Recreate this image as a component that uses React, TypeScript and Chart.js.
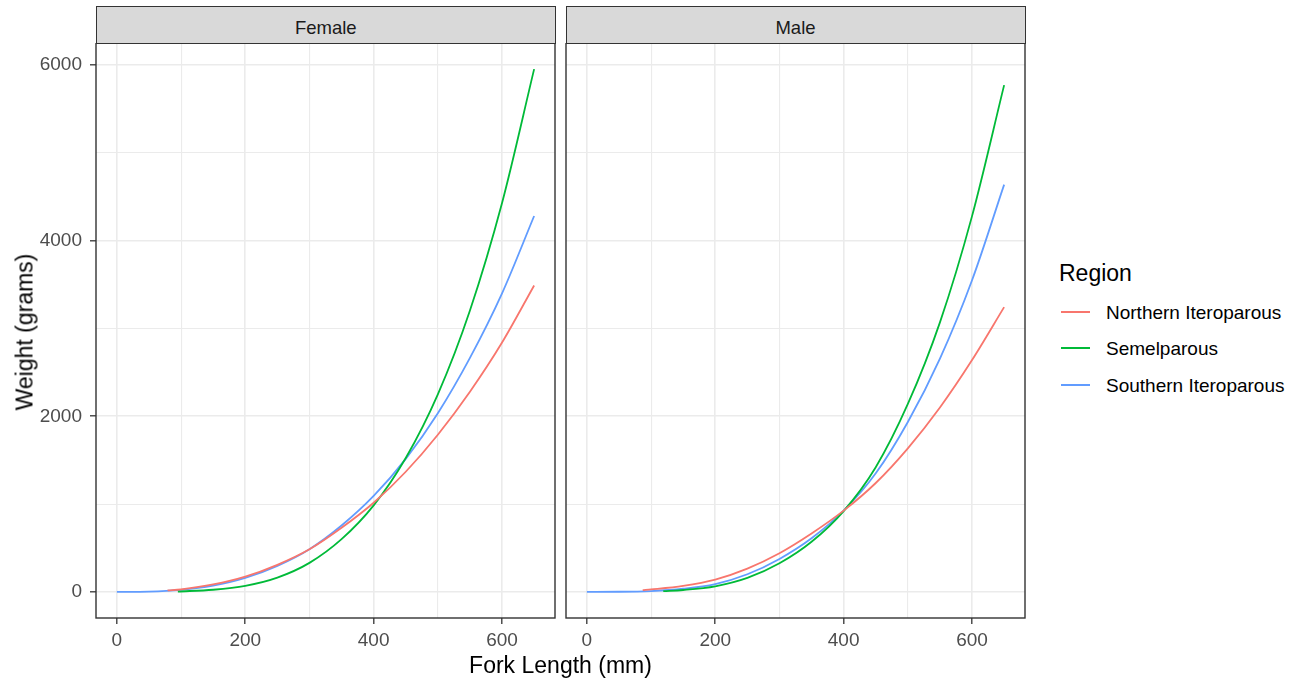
import React, { useEffect, useRef } from 'react';
import { Chart, registerables } from 'chart.js';

Chart.register(...registerables);

// ---------- data ----------
const regions = ['Northern Iteroparous', 'Semelparous', 'Southern Iteroparous'];
const regionColors = ['#F8766D', '#00BA38', '#619CFF'];
const sexes = ['Female', 'Male'];

const xTickValues = [0, 100, 200, 300, 400, 500, 600];
const xTickLabels = ['0', '', '200', '', '400', '', '600'];
const yTickValues = [0, 1000, 2000, 3000, 4000, 5000, 6000];
const yTickLabels = ['0', '', '2000', '', '4000', '', '6000'];

// Female
const femaleNorthernLength = [79, 100, 150, 200, 250, 300, 350, 400, 450, 500, 550, 600, 650];
const femaleNorthernWeight = [16, 29, 84, 173, 308, 485, 730, 1015, 1368, 1790, 2280, 2840, 3490];
const femaleSemelLength = [95, 150, 200, 250, 300, 350, 400, 450, 500, 550, 600, 650];
const femaleSemelWeight = [4, 24, 68, 162, 330, 600, 985, 1525, 2250, 3205, 4430, 5954];
const femaleSouthernLength = [0, 50, 100, 150, 200, 250, 300, 350, 400, 450, 500, 550, 600, 650];
const femaleSouthernWeight = [0, 3, 22, 70, 158, 295, 485, 755, 1092, 1515, 2035, 2665, 3400, 4281];

// Male
const maleNorthernLength = [87, 100, 150, 200, 250, 300, 350, 400, 450, 500, 550, 600, 650];
const maleNorthernWeight = [20, 28, 68, 140, 265, 440, 665, 925, 1240, 1635, 2100, 2640, 3243];
const maleSemelLength = [119, 150, 200, 250, 300, 350, 400, 450, 500, 550, 600, 650];
const maleSemelWeight = [8, 21, 63, 158, 325, 570, 920, 1420, 2140, 3070, 4280, 5772];
const maleSouthernLength = [0, 50, 100, 150, 200, 250, 300, 350, 400, 450, 500, 550, 600, 650];
const maleSouthernWeight = [0, 1, 9, 35, 88, 200, 375, 610, 925, 1350, 1935, 2657, 3550, 4639];

const seriesBySex = [
  [
    [femaleNorthernLength, femaleNorthernWeight],
    [femaleSemelLength, femaleSemelWeight],
    [femaleSouthernLength, femaleSouthernWeight],
  ],
  [
    [maleNorthernLength, maleNorthernWeight],
    [maleSemelLength, maleSemelWeight],
    [maleSouthernLength, maleSouthernWeight],
  ],
];

const X_MIN = -32.5;
const X_MAX = 682.5;
const Y_MIN = -298;
const Y_MAX = 6252;

const FONT = '"Liberation Sans", Arial, "DejaVu Sans", sans-serif';

const panelBorder = {
  id: 'panelBorder',
  afterDraw(chart: any) {
    const { ctx, chartArea } = chart;
    ctx.save();
    ctx.strokeStyle = '#333333';
    ctx.lineWidth = 1.4;
    ctx.strokeRect(chartArea.left, chartArea.top, chartArea.right - chartArea.left, chartArea.bottom - chartArea.top);
    ctx.restore();
  },
};

function makeConfig(sexIndex: number, showYLabels: boolean, yAxisWidth: number): any {
  const datasets = regions.map((name, i) => {
    const [lens, wts] = seriesBySex[sexIndex][i];
    return {
      label: name,
      data: lens.map((x: number, k: number) => ({ x, y: wts[k] })),
      borderColor: regionColors[i],
      backgroundColor: regionColors[i],
      borderWidth: 1.8,
      pointRadius: 0,
      fill: false,
      cubicInterpolationMode: 'monotone',
    };
  });
  return {
    type: 'line',
    data: { datasets },
    plugins: [panelBorder],
    options: {
      animation: false,
      responsive: false,
      maintainAspectRatio: false,
      layout: { padding: { left: 0, right: 5, top: 0, bottom: 0 } },
      plugins: { legend: { display: false }, tooltip: { enabled: false } },
      scales: {
        x: {
          type: 'linear',
          min: X_MIN,
          max: X_MAX,
          afterBuildTicks: (s: any) => {
            s.ticks = xTickValues.map((v) => ({ value: v }));
          },
          afterFit: (s: any) => {
            s.height = 44;
            s.paddingLeft = 0;
            s.paddingRight = 0;
          },
          border: { display: false },
          grid: {
            color: '#ebebeb',
            lineWidth: (c: any) => (c.tick && c.tick.value % 200 === 0 ? 1.6 : 1.1),
            tickLength: 6,
            tickWidth: 1.3,
            tickColor: (c: any) => (c.tick && c.tick.value % 200 === 0 ? '#333333' : 'rgba(0,0,0,0)'),
          },
          ticks: {
            autoSkip: false,
            maxRotation: 0,
            minRotation: 0,
            padding: 5,
            color: '#4d4d4d',
            font: { family: FONT, size: 19 },
            callback: (v: any) => {
              const idx = xTickValues.indexOf(v);
              return idx >= 0 ? xTickLabels[idx] : '';
            },
          },
        },
        y: {
          type: 'linear',
          min: Y_MIN,
          max: Y_MAX,
          afterBuildTicks: (s: any) => {
            s.ticks = yTickValues.map((v) => ({ value: v }));
          },
          afterFit: (s: any) => {
            s.width = yAxisWidth;
            s.paddingTop = 0;
            s.paddingBottom = 0;
          },
          border: { display: false },
          grid: {
            color: '#ebebeb',
            lineWidth: (c: any) => (c.tick && c.tick.value % 2000 === 0 ? 1.6 : 1.1),
            drawTicks: showYLabels,
            tickLength: 6,
            tickWidth: 1.3,
            tickColor: (c: any) => (c.tick && c.tick.value % 2000 === 0 ? '#333333' : 'rgba(0,0,0,0)'),
          },
          ticks: {
            display: showYLabels,
            autoSkip: false,
            padding: 8,
            color: '#4d4d4d',
            font: { family: FONT, size: 19 },
            callback: (v: any) => {
              const idx = yTickValues.indexOf(v);
              return idx >= 0 ? yTickLabels[idx] : '';
            },
          },
        },
      },
    },
  };
}

function Panel(props: { sexIndex: number; left: number; width: number; yAxisWidth: number; showY: boolean }) {
  const ref = useRef<HTMLCanvasElement | null>(null);
  useEffect(() => {
    if (!ref.current) return;
    const chart = new Chart(ref.current, makeConfig(props.sexIndex, props.showY, props.yAxisWidth));
    return () => chart.destroy();
  }, []);
  return (
    <canvas
      ref={ref}
      width={props.width}
      height={619}
      style={{ position: 'absolute', left: props.left, top: 43, width: props.width, height: 619 }}
    />
  );
}

function Strip(props: { left: number; width: number; text: string }) {
  return (
    <div
      style={{
        position: 'absolute',
        left: props.left,
        top: 6,
        width: props.width,
        height: 37.7,
        boxSizing: 'border-box',
        background: '#d9d9d9',
        border: '1.4px solid #333333',
        paddingTop: 6,
        display: 'flex',
        alignItems: 'center',
        justifyContent: 'center',
        fontFamily: FONT,
        fontSize: 18.5,
        color: '#1a1a1a',
      }}
    >
      {props.text}
    </div>
  );
}

export default function App() {
  return (
    <div
      style={{
        position: 'fixed',
        left: 0,
        top: 0,
        width: 1302,
        height: 682,
        background: '#ffffff',
        overflow: 'hidden',
        fontFamily: FONT,
      }}
    >
      <Panel sexIndex={0} left={0} width={560} yAxisWidth={96} showY={true} />
      <Panel sexIndex={1} left={560} width={470} yAxisWidth={6} showY={false} />
      <Strip left={96} width={459.5} text={sexes[0]} />
      <Strip left={565.5} width={460} text={sexes[1]} />

      <div
        style={{
          position: 'absolute',
          left: 560.5,
          top: 665,
          transform: 'translate(-50%, -50%)',
          fontSize: 23,
          color: '#000',
          whiteSpace: 'nowrap',
        }}
      >
        Fork Length (mm)
      </div>
      <div
        style={{
          position: 'absolute',
          left: 25,
          top: 332,
          transform: 'translate(-50%, -50%) rotate(-90deg)',
          fontSize: 23,
          color: '#000',
          whiteSpace: 'nowrap',
        }}
      >
        Weight (grams)
      </div>

      <div
        style={{
          position: 'absolute',
          left: 1059,
          top: 273,
          transform: 'translateY(-50%)',
          fontSize: 23,
          color: '#000',
          whiteSpace: 'nowrap',
        }}
      >
        Region
      </div>
      {regions.map((name, i) => (
        <div key={name}>
          <div
            style={{
              position: 'absolute',
              left: 1061,
              top: 312 + i * 36.3 - 1,
              width: 29,
              height: 2,
              background: regionColors[i],
            }}
          />
          <div
            style={{
              position: 'absolute',
              left: 1106,
              top: 313 + i * 36.3,
              transform: 'translateY(-50%)',
              fontSize: 19,
              color: '#000',
              whiteSpace: 'nowrap',
            }}
          >
            {name}
          </div>
        </div>
      ))}
    </div>
  );
}
